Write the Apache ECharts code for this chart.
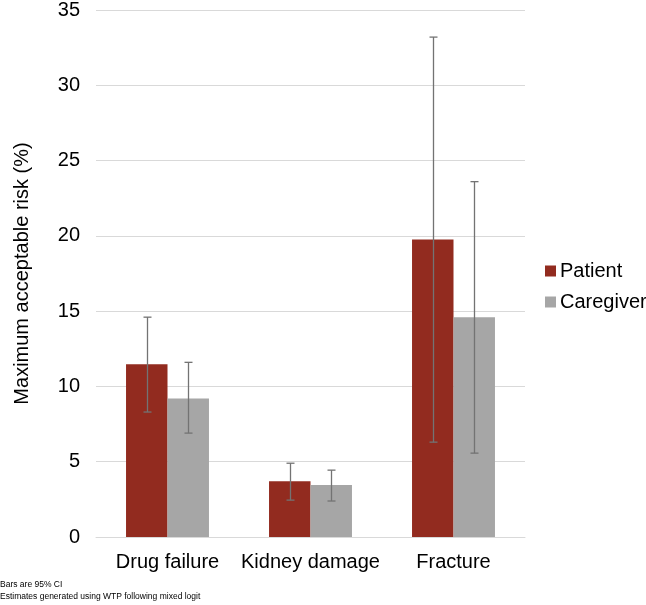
<!DOCTYPE html>
<html><head><meta charset="utf-8">
<script src="https://cdn.jsdelivr.net/npm/echarts@6/dist/echarts.min.js"></script>
<style>html,body{margin:0;padding:0;background:#fff}#c{width:646px;height:605px}</style>
</head><body><div id="c"></div>
<script>
const categories = ['Drug failure', 'Kidney damage', 'Fracture'];
const patient = [11.47, 3.71, 19.76];
const patientLow = [8.3, 2.45, 6.3];
const patientHigh = [14.6, 4.9, 33.2];
const caregiver = [9.2, 3.45, 14.59];
const caregiverLow = [6.9, 2.39, 5.57];
const caregiverHigh = [11.6, 4.44, 23.6];
const yTicks = [0, 5, 10, 15, 20, 25, 30, 35];

const FONT = 'Liberation Sans, Arial, Helvetica, sans-serif';
const BW = 0.29;
function errSeries(name, low, high, sign) {
  return {
    type: 'custom', name: name + ' CI', z: 10, silent: true,
    data: categories.map((c, i) => [i, low[i], high[i]]),
    renderItem: function (params, api) {
      const i = api.value(0);
      const band = api.size([1, 0])[0];
      const off = sign * BW * band / 2;
      const lo = api.coord([i, api.value(1)]);
      const hi = api.coord([i, api.value(2)]);
      const x = Math.round(lo[0] + off) + 0.5;
      const cap = 4;
      const st = { stroke: '#737373', lineWidth: 1.3 };
      return { type: 'group', children: [
        { type: 'line', shape: { x1: x, y1: hi[1], x2: x, y2: lo[1] }, style: st },
        { type: 'line', shape: { x1: x - cap, y1: hi[1], x2: x + cap, y2: hi[1] }, style: st },
        { type: 'line', shape: { x1: x - cap, y1: lo[1], x2: x + cap, y2: lo[1] }, style: st }
      ]};
    }
  };
}

const chart = echarts.init(document.getElementById('c'));
chart.setOption({
  animation: false,
  textStyle: { fontFamily: FONT },
  grid: { left: 96, right: 121, top: 9, bottom: 68 },
  legend: {
    orient: 'vertical', left: 540, top: 256, padding: 5,
    itemWidth: 11, itemHeight: 11, itemGap: 11,
    icon: 'rect',
    textStyle: { fontSize: 20, color: '#000', padding: [0, 0, 0, -1] },
    data: ['Patient', 'Caregiver']
  },
  xAxis: {
    type: 'category', data: categories,
    axisLine: { lineStyle: { color: '#d9d9d9' } },
    axisTick: { show: false },
    axisLabel: { fontSize: 20, color: '#000', margin: 15, interval: 0 }
  },
  yAxis: {
    type: 'value', min: 0, max: 35, interval: 5,
    name: 'Maximum acceptable risk (%)', nameLocation: 'middle', nameGap: 64,
    nameTextStyle: { fontSize: 20, color: '#000' },
    axisLabel: { fontSize: 20, color: '#000', margin: 16,
      formatter: v => yTicks.includes(v) ? String(v) : '' },
    splitLine: { lineStyle: { color: '#d9d9d9', width: 1 } },
    axisLine: { show: false }, axisTick: { show: false }
  },
  series: [
    { name: 'Patient', type: 'bar', data: patient, barWidth: (BW * 100) + '%', barGap: '0%',
      itemStyle: { color: '#922b1f' } },
    { name: 'Caregiver', type: 'bar', data: caregiver, barWidth: (BW * 100) + '%', barGap: '0%',
      itemStyle: { color: '#a6a6a6' } },
    errSeries('Patient', patientLow, patientHigh, -1),
    errSeries('Caregiver', caregiverLow, caregiverHigh, 1)
  ],
  graphic: [
    { type: 'text', left: 0, top: 580, style: { text: 'Bars are 95% CI', fontSize: 8.5, fill: '#000', fontFamily: FONT } },
    { type: 'text', left: 0, top: 592, style: { text: 'Estimates generated using WTP following mixed logit', fontSize: 8.5, fill: '#000', fontFamily: FONT } }
  ]
});
</script></body></html>
